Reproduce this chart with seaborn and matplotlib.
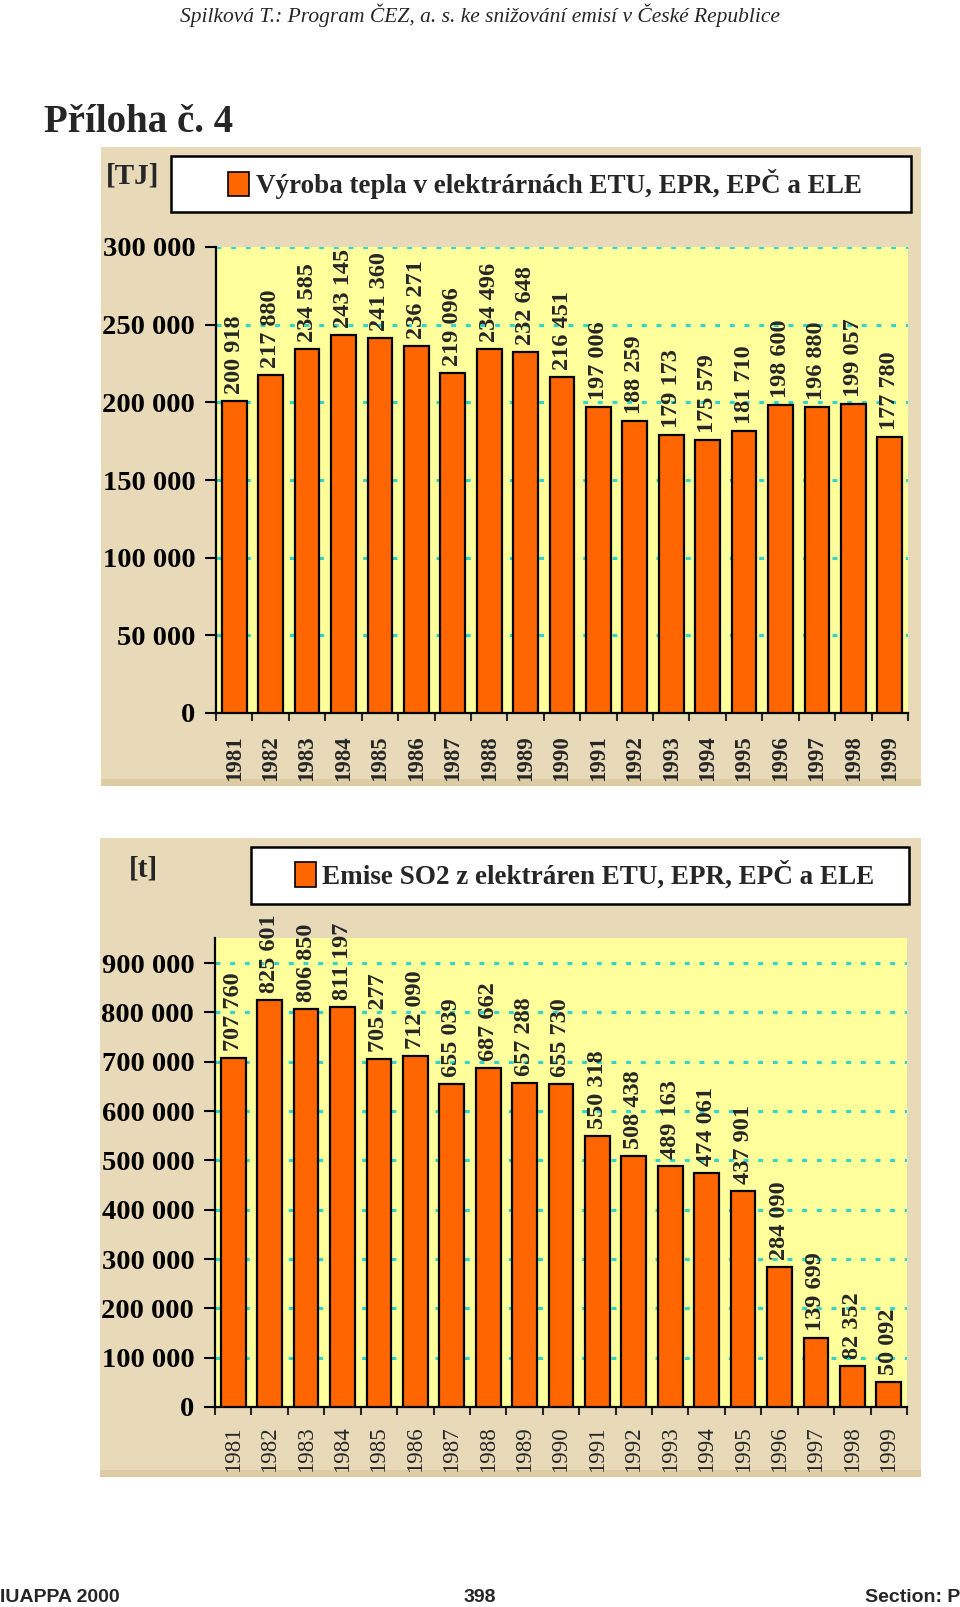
import matplotlib
matplotlib.use("Agg")
import matplotlib.pyplot as plt
import seaborn as sns
from matplotlib.patches import Rectangle, Patch

# ---------------- data ----------------
years = ["1981", "1982", "1983", "1984", "1985", "1986", "1987", "1988", "1989", "1990",
         "1991", "1992", "1993", "1994", "1995", "1996", "1997", "1998", "1999"]
heat_tj = [200918, 217880, 234585, 243145, 241360, 236271, 219096, 234496, 232648, 216451,
           197006, 188259, 179173, 175579, 181710, 198600, 196880, 199057, 177780]
so2_t = [707760, 825601, 806850, 811197, 705277, 712090, 655039, 687662, 657288, 655730,
         550318, 508438, 489163, 474061, 437901, 284090, 139699, 82352, 50092]
heat_yticks = [0, 50000, 100000, 150000, 200000, 250000, 300000]
so2_yticks = [0, 100000, 200000, 300000, 400000, 500000, 600000, 700000, 800000, 900000]
heat_label = "Výroba tepla v elektrárnách ETU, EPR, EPČ a ELE"
so2_label = "Emise SO2 z elektráren ETU, EPR, EPČ a ELE"
header = "Spilková T.: Program ČEZ, a. s. ke snižování emisí v České Republice"
title = "Příloha č. 4"

# ---------------- style ----------------
sns.set_theme(style="white")
plt.rcParams["font.family"] = ["Liberation Serif", "DejaVu Serif"]

W, H = 960, 1607
fig = plt.figure(figsize=(W / 100, H / 100), dpi=100)
fig.patch.set_facecolor("white")

BAR = "#FF6600"
PLOT_BG = "#FFFF9C"
PANEL = "#E8D9B8"
GRID = "#2FD6CC"


def fbox(x0, y0, x1, y1):
    return [x0 / W, 1 - y1 / H, (x1 - x0) / W, (y1 - y0) / H]


def fx(x):
    return x / W


def fy(y):
    return 1 - y / H


def fmt(v):
    return f"{v:,}".replace(",", " ")


def panel(x0, y0, x1, y1):
    b = fbox(x0, y0, x1, y1)
    fig.add_artist(Rectangle((b[0], b[1]), b[2], b[3], transform=fig.transFigure,
                             facecolor=PANEL, edgecolor="none", zorder=0))
    b2 = fbox(x0, y1 - 7, x1, y1)
    fig.add_artist(Rectangle((b2[0], b2[1]), b2[2], b2[3], transform=fig.transFigure,
                             facecolor="#DCCBA3", edgecolor="none", zorder=0))


def legend_box(x0, y0, x1, y1, label, fs, cx):
    b = fbox(x0, y0, x1, y1)
    fig.add_artist(Rectangle((b[0], b[1]), b[2], b[3], transform=fig.transFigure,
                             facecolor="white", edgecolor="black", linewidth=1.8, zorder=1))
    fig.legend(handles=[Patch(facecolor=BAR, edgecolor="black", linewidth=1.2)],
               labels=[label], loc="center",
               bbox_to_anchor=(fx(cx), fy((y0 + y1) / 2)),
               frameon=False, handlelength=0.75, handleheight=1.0, handletextpad=0.25,
               prop={"family": "Liberation Serif", "weight": "bold", "size": fs})


def chart(box, values, yticks, ymax, year_weight, pad_x):
    ax = fig.add_axes(fbox(*box))
    sns.barplot(x=years, y=values, ax=ax, color=BAR, saturation=1, width=0.68,
                edgecolor="black", linewidth=1.6, zorder=3)
    ax.set_facecolor(PLOT_BG)
    ax.set_xlim(-0.5, len(years) - 0.5)
    ax.set_ylim(0, ymax)
    ax.set_yticks(yticks)
    ax.set_yticklabels([fmt(t) for t in yticks], fontsize=20.5, fontweight="bold")
    ax.yaxis.grid(True, color=GRID, linestyle=(0, (1.6, 3.2)), linewidth=2.2, zorder=1)
    ax.set_axisbelow(True)
    ax.tick_params(axis="y", direction="out", length=8, width=1.5, pad=7, colors="black",
                   left=True)
    ax.set_xticks([i - 0.5 for i in range(len(years) + 1)])
    ax.set_xticklabels([])
    ax.set_xticks(range(len(years)), minor=True)
    ax.set_xticklabels(years, minor=True, rotation=90, fontsize=16.5, fontweight=year_weight)
    ax.tick_params(axis="x", which="major", direction="out", length=6, width=1.5, bottom=True)
    ax.tick_params(axis="x", which="minor", length=0, pad=pad_x)
    for s in ["top", "right"]:
        ax.spines[s].set_visible(False)
    for s in ["left", "bottom"]:
        ax.spines[s].set_color("black")
        ax.spines[s].set_linewidth(1.6)
    ax.set_xlabel("")
    ax.set_ylabel("")
    ax.bar_label(ax.containers[0], labels=[fmt(v) for v in values], rotation=90,
                 padding=5, fontsize=17.5, fontweight="bold", clip_on=False)
    return ax


# ---------------- header / footer ----------------
fig.text(fx(480), fy(15), header, ha="center", va="center", fontsize=15.5, style="italic")
fig.text(fx(44), fy(122), title, ha="left", va="center", fontsize=28, fontweight="bold")
for x, s, ha in [(0, "IUAPPA 2000", "left"), (480, "398", "center"), (960, "Section: P", "right")]:
    fig.text(fx(x), fy(1598), s, ha=ha, va="center", fontsize=14,
             fontweight="bold", family=["Liberation Sans", "DejaVu Sans"])

# ---------------- chart 1 ----------------
panel(101, 147, 921, 786)
legend_box(171, 156, 911, 212, heat_label, 19.5, 545)
fig.text(fx(133), fy(176), "[TJ]", ha="center", va="center", fontsize=21, fontweight="bold")
chart((216, 247, 908, 713), heat_tj, heat_yticks, 300000, "bold", 16)

# ---------------- chart 2 ----------------
panel(100, 838, 921, 1477)
legend_box(251, 847, 909, 904, so2_label, 19.5, 585)
fig.text(fx(143), fy(869), "[t]", ha="center", va="center", fontsize=21, fontweight="bold")
chart((215, 938, 907, 1407), so2_t, so2_yticks, 951000, "normal", 14)

fig.savefig("out.png", dpi=100)
